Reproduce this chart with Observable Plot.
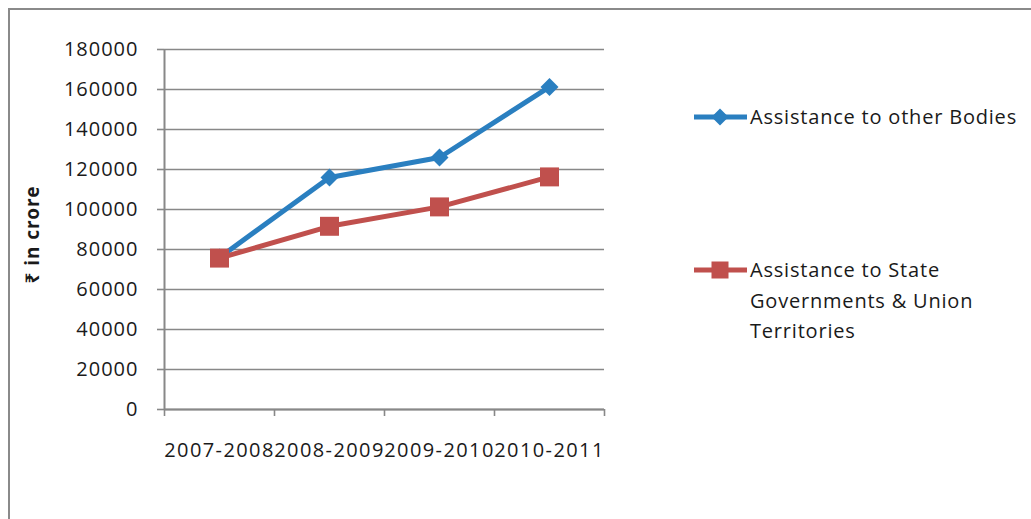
<!DOCTYPE html>
<html>
<head>
<meta charset="utf-8">
<script src="https://cdn.jsdelivr.net/npm/d3@7"></script>
<script src="https://cdn.jsdelivr.net/npm/@observablehq/plot@0.6"></script>
<style>
  html, body { margin: 0; padding: 0; background: #fff; }
  body { width: 1031px; height: 519px; position: relative; overflow: hidden; font-family: "Open Sans", "Noto Sans", sans-serif; color: #1a1a1a; }
  #frame { position: absolute; left: 8px; top: 8px; width: 1060px; height: 560px; border-left: 2px solid #8a8a8a; border-top: 2px solid #8a8a8a; }
  #chart { position: absolute; left: 0; top: 0; }
  #chart svg text { letter-spacing: 1px; }
  #chart svg .x-labels text { letter-spacing: 1.4px; }
  .legend-item { position: absolute; left: 694px; display: flex; align-items: flex-start; font-size: 20px; line-height: 30.5px; letter-spacing: 0.8px; }
  .legend-item svg { flex: none; margin-top: 0; }
  .legend-item span { margin-left: 3px; white-space: nowrap; }
</style>
</head>
<body>
<div id="frame"></div>
<div id="chart"></div>
<div id="legend"></div>
<script>
// Budget assistance by year, in ₹ crore
const years = ["2007-2008", "2008-2009", "2009-2010", "2010-2011"];
const otherBodies = [76000, 116000, 126000, 161300];
const stateGovts = [75700, 91600, 101300, 116300];
const seriesNames = ["Assistance to other Bodies", "Assistance to State Governments & Union Territories"];
const seriesColors = ["#2a7fc0", "#c0504d"];
const yTicks = [0, 20000, 40000, 60000, 80000, 100000, 120000, 140000, 160000, 180000];

const axisGray = "#888888";

const rows = (name, values) => values.map((v, i) => ({series: name, i: i + 0.5, year: years[i], value: v}));
const blue = rows(seriesNames[0], otherBodies);
const red = rows(seriesNames[1], stateGovts);

const chart = Plot.plot({
  width: 1031,
  height: 519,
  marginLeft: 164,
  marginRight: 427,
  marginTop: 49,
  marginBottom: 110,
  style: {fontFamily: "'Open Sans', 'Noto Sans', sans-serif", fontSize: "20px", color: "#1a1a1a", background: "transparent"},
  x: {type: "linear", domain: [0, years.length]},
  y: {domain: [0, 180000]},
  color: {domain: seriesNames, range: seriesColors},
  marks: [
    Plot.gridY(yTicks, {stroke: axisGray, strokeOpacity: 1, strokeWidth: 1.6}),
    Plot.axisY({ticks: yTicks, tickSize: 7, tickPadding: 19, tickFormat: d => String(d), stroke: axisGray, strokeWidth: 1.6, label: null}),
    Plot.axisX({ticks: d3.range(0, years.length + 1), tickSize: 7, tickFormat: () => "", stroke: axisGray, strokeWidth: 1.6, label: null}),
    Plot.axisX({ticks: years.map((_, i) => i + 0.5), tickSize: 0, tickPadding: 33, tickFormat: v => years[Math.floor(v)], label: null, className: "x-labels"}),
    Plot.ruleX([0], {stroke: axisGray, strokeWidth: 2}),
    Plot.ruleY([0], {stroke: axisGray, strokeWidth: 2}),
    Plot.text(["₹ in crore"], {frameAnchor: "left", textAnchor: "middle", dx: -132, dy: 5, rotate: -90, fontWeight: "bold", fontSize: 19, fontFamily: "'Noto Sans', 'DejaVu Sans', sans-serif", fill: "#1a1a1a"}),
    Plot.line(blue, {x: "i", y: "value", stroke: "series", strokeWidth: 5}),
    Plot.dot(blue, {x: "i", y: "value", fill: "series", symbol: "diamond2", r: 8.1, stroke: null}),
    Plot.line(red, {x: "i", y: "value", stroke: "series", strokeWidth: 5}),
    Plot.dot(red, {x: "i", y: "value", fill: "series", symbol: "square", r: 10.7, stroke: null})
  ]
});
document.getElementById("chart").append(chart);

// Legend to the right of the plot
const legend = document.getElementById("legend");
const legendTops = [102, 255];
const legendLines = [[seriesNames[0]], ["Assistance to State", "Governments & Union", "Territories"]];
seriesNames.forEach((name, k) => {
  const item = document.createElement("div");
  item.className = "legend-item";
  item.style.top = legendTops[k] + "px";
  const marker = k === 0
    ? `<path d="M26,6.5 L34.5,15 L26,23.5 L17.5,15 Z" fill="${seriesColors[k]}"/>`
    : `<rect x="17.5" y="6.5" width="17" height="17" fill="${seriesColors[k]}"/>`;
  item.innerHTML = `<svg width="53" height="30" viewBox="0 0 53 30"><line x1="0" x2="53" y1="15" y2="15" stroke="${seriesColors[k]}" stroke-width="5"/>${marker}</svg><span>${legendLines[k].join("<br>")}</span>`;
  legend.append(item);
});
</script>
</body>
</html>
